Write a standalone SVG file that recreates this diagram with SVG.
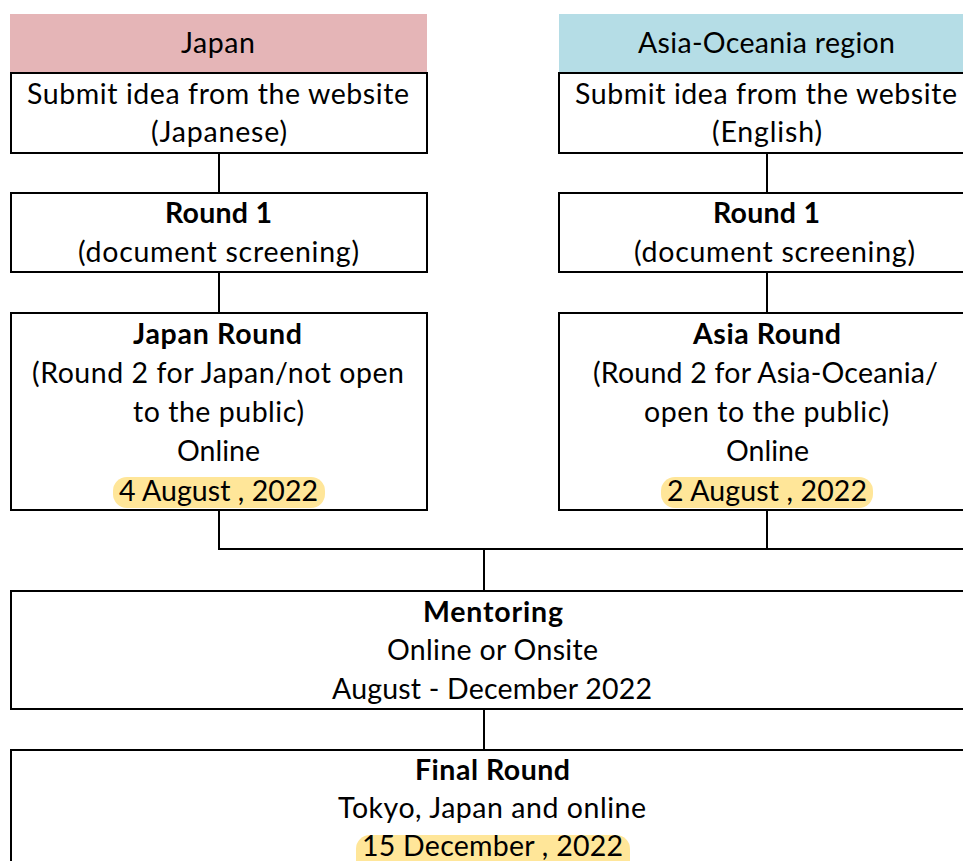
<svg xmlns="http://www.w3.org/2000/svg" width="963" height="861" viewBox="0 0 963 861">
<style>
  text { font-family: Lato, "Open Sans", "Liberation Sans", sans-serif; font-size: 28.5px; fill: #000; text-anchor: middle; }
  .b { font-weight: bold; }
  .box { fill: #fff; stroke: #000; stroke-width: 2; }
  .hl { fill: #ffe699; }
  .conn { fill: none; stroke: #000; stroke-width: 2; }
</style>
<rect x="0" y="0" width="963" height="861" fill="#fff"/>

<g id="connectors">
  <line class="conn" x1="219" y1="153" x2="219" y2="193"/>
  <line class="conn" x1="219" y1="272" x2="219" y2="313"/>
  <line class="conn" x1="767" y1="153" x2="767" y2="193"/>
  <line class="conn" x1="767" y1="272" x2="767" y2="313"/>
  <polyline class="conn" points="219,510 219,549 980,549"/>
  <line class="conn" x1="767" y1="510" x2="767" y2="549"/>
  <line class="conn" x1="484" y1="549" x2="484" y2="591"/>
  <line class="conn" x1="484" y1="709" x2="484" y2="750"/>
</g>

<g id="header-japan">
  <rect x="10" y="14" width="417" height="59" fill="#e5b5b7"/>
  <text x="218" y="53" textLength="74">Japan</text>
</g>
<g id="header-asia">
  <rect x="559" y="14" width="420" height="59" fill="#b5dde6"/>
  <text x="766.5" y="53" textLength="257">Asia-Oceania region</text>
</g>

<g id="submit-japan">
  <rect class="box" x="11" y="73" width="416" height="80"/>
  <text x="218" y="104" textLength="382">Submit idea from the website</text>
  <text x="219" y="142" textLength="136">(Japanese)</text>
</g>
<g id="submit-asia">
  <rect class="box" x="559" y="73" width="420" height="80"/>
  <text x="766" y="104" textLength="382">Submit idea from the website</text>
  <text x="767" y="142" textLength="110">(English)</text>
</g>

<g id="round1-japan">
  <rect class="box" x="11" y="193" width="416" height="79"/>
  <text class="b" x="218.5" y="223" textLength="107">Round 1</text>
  <text x="218.5" y="262" textLength="281">(document screening)</text>
</g>
<g id="round1-asia">
  <rect class="box" x="559" y="193" width="420" height="79"/>
  <text class="b" x="766.5" y="223" textLength="107">Round 1</text>
  <text x="774.5" y="262" textLength="281">(document screening)</text>
</g>

<g id="japan-round">
  <rect class="box" x="11" y="313" width="416" height="197"/>
  <rect class="hl" x="113" y="477" width="212" height="31" rx="14"/>
  <text class="b" x="217.5" y="344" textLength="169">Japan Round</text>
  <text x="218" y="383" textLength="372">(Round 2 for Japan/not open</text>
  <text x="218.5" y="422" textLength="171">to the public)</text>
  <text x="218.5" y="461" textLength="83">Online</text>
  <text x="218.5" y="500.5" textLength="199">4 August , 2022</text>
</g>
<g id="asia-round">
  <rect class="box" x="559" y="313" width="420" height="197"/>
  <rect class="hl" x="661" y="477" width="212" height="31" rx="14"/>
  <text class="b" x="767" y="344" textLength="148">Asia Round</text>
  <text x="765.5" y="383" textLength="345">(Round 2 for Asia-Oceania/</text>
  <text x="766.5" y="422" textLength="245">open to the public)</text>
  <text x="767.5" y="461" textLength="83">Online</text>
  <text x="767" y="500.5" textLength="200">2 August , 2022</text>
</g>

<g id="mentoring">
  <rect class="box" x="11" y="591" width="963" height="118"/>
  <text class="b" x="493" y="621.7" textLength="140">Mentoring</text>
  <text x="492.5" y="660" textLength="211">Online or Onsite</text>
  <text x="492" y="699" textLength="320">August - December 2022</text>
</g>

<g id="final-round">
  <rect class="box" x="11" y="750" width="963" height="160"/>
  <rect class="hl" x="356" y="835" width="274" height="40" rx="14"/>
  <text class="b" x="492.5" y="780" textLength="155">Final Round</text>
  <text x="492" y="818" textLength="308">Tokyo, Japan and online</text>
  <text x="492.5" y="856" textLength="261">15 December , 2022</text>
</g>
</svg>
